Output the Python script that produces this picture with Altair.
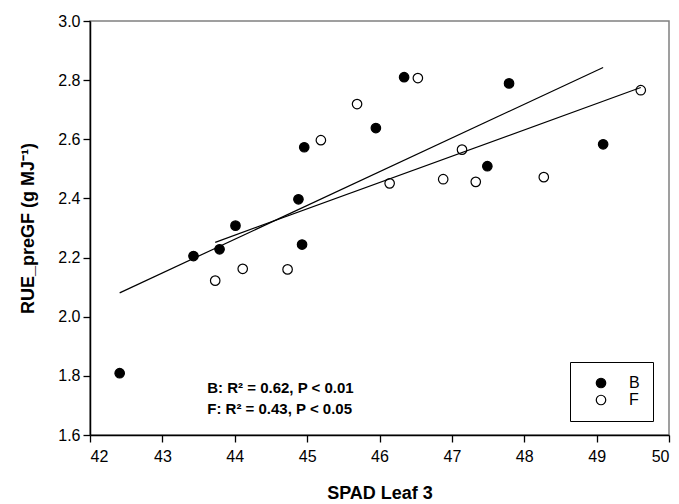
import altair as alt
import pandas as pd

# Group B (filled circles)
b_spad = [42.41, 43.43, 43.79, 44.01, 44.88, 44.93, 44.96, 45.95, 46.34, 47.49, 47.79, 49.09]
b_rue = [1.809, 2.205, 2.228, 2.308, 2.397, 2.244, 2.573, 2.638, 2.810, 2.509, 2.789, 2.583]

# Group F (open circles)
f_spad = [43.73, 44.11, 44.73, 45.19, 45.69, 46.14, 46.53, 46.88, 47.14, 47.33, 48.27, 49.61]
f_rue = [2.122, 2.162, 2.160, 2.597, 2.719, 2.451, 2.807, 2.465, 2.565, 2.456, 2.472, 2.766]

groups = ["B", "F"]
x_ticks = [42, 43, 44, 45, 46, 47, 48, 49, 50]
y_ticks = [1.6, 1.8, 2.0, 2.2, 2.4, 2.6, 2.8, 3.0]

ann_text = ["B: R\u00b2 = 0.62, P < 0.01", "F: R\u00b2 = 0.43, P < 0.05"]
ann_x = [43.62, 43.62]
ann_y = [1.759, 1.688]

FONT = "Liberation Sans"

df = pd.DataFrame({
    "spad": b_spad + f_spad,
    "rue": b_rue + f_rue,
    "group": ["B"] * len(b_spad) + ["F"] * len(f_spad),
})
ann = pd.DataFrame({"spad": ann_x, "rue": ann_y, "label": ann_text})

x_enc = alt.X(
    "spad:Q",
    scale=alt.Scale(domain=[42, 50], nice=False, zero=False),
    axis=alt.Axis(title="SPAD Leaf 3", values=x_ticks, format="d",
                  labelPadding=6, titleX=289.5, titleY=58,
                  titleBaseline="middle"),
)
y_enc = alt.Y(
    "rue:Q",
    scale=alt.Scale(domain=[1.6, 3.0], nice=False, zero=False),
    axis=alt.Axis(title="RUE_preGF (g MJ\u207b\u00b9)", values=y_ticks, format=".1f",
                  labelPadding=3, titleX=-62, titleY=207,
                  titleBaseline="middle"),
)

base = alt.Chart(df)

points = base.mark_point(
    shape="circle", filled=True, size=90, stroke="black", strokeWidth=1.2, opacity=1
).encode(
    x=x_enc,
    y=y_enc,
    fill=alt.Fill(
        "group:N",
        scale=alt.Scale(domain=groups, range=["black", "white"]),
        legend=alt.Legend(
            title=None, orient="none", legendX=480, legendY=341,
            strokeColor="black", fillColor="white", padding=13,
            symbolOffset=10, labelOffset=20, rowPadding=1,
            symbolType="circle", symbolSize=90,
            symbolStrokeColor="black", symbolStrokeWidth=1.2,
            labelFontSize=16, labelFont=FONT, labelColor="black",
        ),
    ),
)

lines = base.transform_regression(
    "spad", "rue", groupby=["group"]
).mark_line(color="black", strokeWidth=1.2).encode(
    x=x_enc, y=y_enc, detail="group:N"
)

text = alt.Chart(ann).mark_text(
    align="left", baseline="middle", font=FONT, fontSize=15,
    fontWeight="bold", color="black"
).encode(x=x_enc, y=y_enc, text="label:N")

chart = alt.layer(points, lines, text).properties(
    width=579,
    height=414,
    autosize=alt.AutoSizeParams(type="none"),
    padding={"left": 90, "top": 21, "right": 10, "bottom": 69},
    background="white",
).configure_view(
    stroke="#808080", strokeWidth=1.5
).configure_axis(
    grid=False,
    domainColor="black", domainWidth=1.5,
    tickColor="black", tickSize=7, tickWidth=1.3,
    labelFont=FONT, labelFontSize=16, labelColor="black",
    titleFont=FONT, titleFontSize=18, titleFontWeight="bold", titleColor="black",
)

chart.save("out.html", embed_options={"renderer": "svg", "actions": False})
